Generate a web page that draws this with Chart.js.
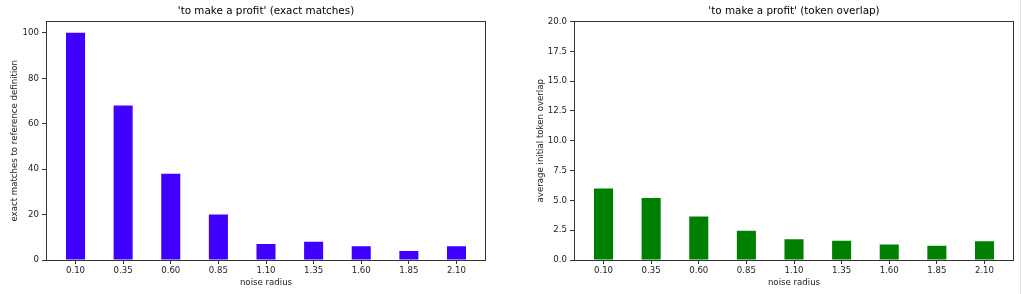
<!DOCTYPE html>
<html>
<head>
<meta charset="utf-8">
<script src="https://cdn.jsdelivr.net/npm/chart.js@4/dist/chart.umd.min.js"></script>
<style>
  body { margin: 0; background: #fff; width: 1022px; height: 294px; overflow: hidden; position: relative; }
  .box { position: absolute; top: 0; height: 294px; }
  #edge { position: absolute; left: 1020px; top: 0; width: 1px; height: 294px; background: #e4e4e4; }
</style>
</head>
<body>
<div class="box" style="left:0;width:500px"><canvas id="exactChart"></canvas></div>
<div class="box" style="left:511px;width:509px"><canvas id="overlapChart"></canvas></div>
<div id="edge"></div>
<script>
const noiseRadius = ['0.10', '0.35', '0.60', '0.85', '1.10', '1.35', '1.60', '1.85', '2.10'];
const exactMatches = [100, 68, 38, 20, 7, 8, 6, 4, 6];
const tokenOverlap = [6.0, 5.2, 3.65, 2.45, 1.75, 1.62, 1.31, 1.2, 1.58];
const exactTicks = [0, 20, 40, 60, 80, 100];
const overlapTicks = [0, 2.5, 5, 7.5, 10, 12.5, 15, 17.5, 20];

Chart.defaults.font.family = '"DejaVu Sans", sans-serif';
Chart.defaults.color = '#222';

// matplotlib-like axes frame
const frame = {
    id: 'frame',
    afterDraw(chart) {
        const a = chart.chartArea;
        const c = chart.ctx;
        c.save();
        c.strokeStyle = '#333';
        c.lineWidth = 1;
        c.strokeRect(Math.round(a.left) + 0.5, Math.round(a.top) + 0.5,
                     Math.round(a.right - a.left) - 1, Math.round(a.bottom - a.top));
        c.restore();
    }
};

function makeChart(id, title, values, color, yMax, yTicks, yFmt, yTitle, yWidth, yTitlePad, rightPad) {
    return new Chart(document.getElementById(id), {
        type: 'bar',
        data: {
            datasets: [{
                data: values.map((v, i) => ({ x: i, y: v })),
                backgroundColor: color,
                borderWidth: 0,
                barPercentage: 0.4,
                categoryPercentage: 1.0
            }]
        },
        options: {
            responsive: true,
            maintainAspectRatio: false,
            animation: false,
            layout: { padding: { left: 0, right: rightPad, top: 0, bottom: 0 } },
            plugins: {
                legend: { display: false },
                tooltip: { enabled: false },
                title: {
                    display: true,
                    text: title,
                    fullSize: false,
                    color: '#000',
                    font: { size: 10.4, weight: 'normal' },
                    padding: { top: 5, bottom: 4 }
                }
            },
            scales: {
                x: {
                    type: 'linear',
                    offset: false,
                    min: -0.62,
                    max: 8.62,
                    afterBuildTicks: s => { s.ticks = noiseRadius.map((c, i) => ({ value: i })); },
                    afterFit: s => { s.height = 34; },
                    ticks: {
                        callback: v => noiseRadius[v],
                        autoSkip: false,
                        maxRotation: 0,
                        padding: 1.5,
                        font: { size: 8.6 }
                    },
                    grid: { display: true, offset: false, drawOnChartArea: false, drawTicks: true, tickLength: 4, color: '#333' },
                    border: { display: false },
                    title: { display: true, text: 'noise radius', font: { size: 8.6 }, padding: { top: 6.5, bottom: 6.5 } }
                },
                y: {
                    min: 0,
                    max: yMax,
                    afterBuildTicks: s => { s.ticks = yTicks.map(v => ({ value: v })); },
                    afterFit: s => { s.width = yWidth; },
                    ticks: { callback: yFmt, padding: 3, font: { size: 8.6 } },
                    grid: { display: true, drawOnChartArea: false, drawTicks: true, tickLength: 4, color: '#333' },
                    border: { display: false },
                    title: { display: true, text: yTitle, font: { size: 8.6 }, padding: { top: yTitlePad, bottom: 0 } }
                }
            }
        },
        plugins: [frame]
    });
}

makeChart('exactChart', "'to make a profit' (exact matches)", exactMatches, '#4000ff',
          105, exactTicks, v => String(v), 'exact matches to reference definition', 46, 9.5, 14);
makeChart('overlapChart', "'to make a profit' (token overlap)", tokenOverlap, '#008000',
          20, overlapTicks, v => v.toFixed(1), 'average initial token overlap', 63, 24.5, 6);
</script>
</body>
</html>
